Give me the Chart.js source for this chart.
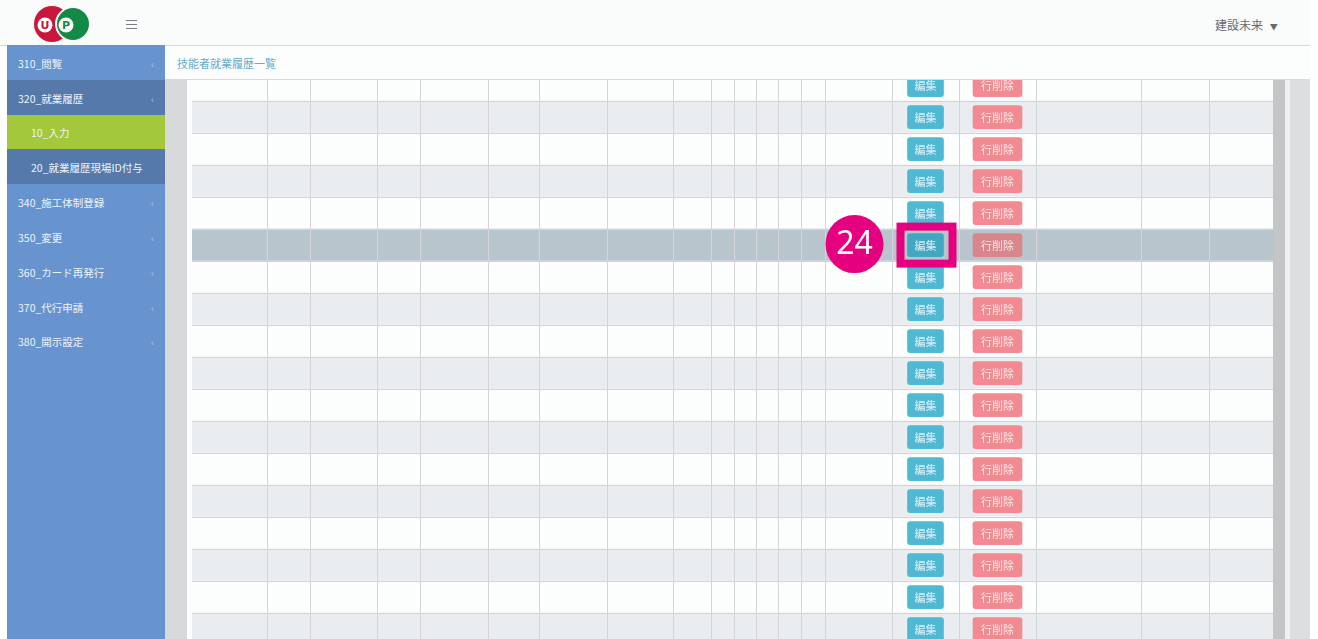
<!DOCTYPE html>
<html>
<head>
<meta charset="utf-8">
<script src="https://cdn.jsdelivr.net/npm/chart.js@4.4.1/dist/chart.umd.min.js"></script>
<style>
  body { margin: 0; width: 1318px; height: 639px; overflow: hidden; background: #ffffff; font-family: "Noto Sans CJK JP", "Noto Sans", sans-serif; position: relative; }
  .abs { position: absolute; }
  #header { left: 0; top: 0; width: 1310px; height: 45px; background: #fafbfb; border-bottom: 1px solid #d3d9de; }
  #burger { left: 126px; top: 20px; width: 11px; }
  #burger div { height: 1px; background: #7a7f85; margin-bottom: 3px; }
  #user { left: 1215px; top: 16px; font-size: 12px; color: #666a6e; }
  #sidebar { left: 7px; top: 45px; width: 158px; height: 594px; background: #6794ce; }
  .item { position: absolute; left: 0; width: 158px; color: #eef3fa; font-size: 10.5px; box-sizing: border-box; }
  .item span { position: absolute; top: 50%; transform: translateY(-50%); }
  .item i { position: absolute; right: 11px; top: 50%; transform: translateY(-50%); font-style: normal; color: #a9c0e2; font-size: 10px; }
  .dark { background: #5479aa; }
  .green { background: #a3c83b; }
  #crumb { left: 165px; top: 46px; width: 1145px; height: 34px; background: #fcfdfd; border-bottom: 1px solid #d6dadd; box-sizing: border-box; }
  #crumb span { position: absolute; left: 12px; top: 9px; font-size: 11px; color: #68abca; }
  #gutter { left: 165px; top: 80px; width: 22px; height: 559px; background: #d8d9db; }
  #tablebox { left: 187px; top: 80px; width: 1086px; height: 559px; background: #fcfdfd; }
  #scroll1 { left: 1273px; top: 80px; width: 12px; height: 559px; background: #c4c5c7; }
  #scroll2 { left: 1285px; top: 80px; width: 5px; height: 559px; background: #eef0f1; }
  #scroll3 { left: 1290px; top: 80px; width: 20px; height: 559px; background: #dcdee0; }
</style>
</head>
<body>
<div id="header" class="abs"></div>
<svg class="abs" style="left:30px;top:3px" width="64" height="42">
  <circle cx="22" cy="21" r="18" fill="#c8173a"/>
  <circle cx="42" cy="21" r="17" fill="#ffffff"/>
  <circle cx="43" cy="21" r="16" fill="#128a45"/>
  <circle cx="15" cy="22" r="7.5" fill="#ffffff"/>
  <text x="15" y="26" font-size="11" font-weight="bold" fill="#c8173a" text-anchor="middle" font-family="DejaVu Sans">U</text>
  <circle cx="36" cy="22" r="7.5" fill="#ffffff"/>
  <text x="36" y="26" font-size="11" font-weight="bold" fill="#128a45" text-anchor="middle" font-family="DejaVu Sans">P</text>
</svg>
<div id="burger" class="abs"><div></div><div></div><div></div></div>
<div id="user" class="abs">建設未来 <span style="font-size:8px;margin-left:4px;">▼</span></div>

<div id="sidebar" class="abs">
  <div class="item" style="top:0;height:35px;"><span style="left:11px;">310_閲覧</span><i>‹</i></div>
  <div class="item dark" style="top:35px;height:35px;"><span style="left:11px;">320_就業履歴</span><i>‹</i></div>
  <div class="item green" style="top:70px;height:34px;"><span style="left:24px;">10_入力</span></div>
  <div class="item dark" style="top:104px;height:35px;"><span style="left:24px;">20_就業履歴現場ID付与</span></div>
  <div class="item" style="top:139px;height:35px;"><span style="left:11px;">340_施工体制登録</span><i>‹</i></div>
  <div class="item" style="top:174px;height:35px;"><span style="left:11px;">350_変更</span><i>‹</i></div>
  <div class="item" style="top:209px;height:35px;"><span style="left:11px;">360_カード再発行</span><i>‹</i></div>
  <div class="item" style="top:244px;height:35px;"><span style="left:11px;">370_代行申請</span><i>‹</i></div>
  <div class="item" style="top:279px;height:34px;"><span style="left:11px;">380_開示設定</span><i>‹</i></div>
</div>

<div id="crumb" class="abs"><span>技能者就業履歴一覧</span></div>
<div id="gutter" class="abs"></div>
<div id="tablebox" class="abs"><canvas id="tableChart" width="1086" height="559"></canvas></div>
<div id="scroll1" class="abs"></div>
<div id="scroll2" class="abs"></div>
<div id="scroll3" class="abs"></div>

<script>
// table layout
const columnWidths = [75, 43, 67, 43, 68, 51, 68, 66, 38, 23, 22, 22, 23, 24, 67, 67, 77, 105, 68, 64];
const rows = [1, 2, 3, 4, 5, 6, 7, 8, 9, 10, 11, 12, 13, 14, 15, 16, 17, 18];
const highlightedRow = 6;
const editColumn = 15;
const deleteColumn = 16;
const editLabel = "編集";
const deleteLabel = "行削除";
const calloutLabel = "24";

const boundaries = columnWidths.reduce((acc, w) => { acc.push(acc[acc.length - 1] + w); return acc; }, [0]);
const tableWidth = boundaries[boundaries.length - 1];
const hiIndex = highlightedRow - 1;

function colSpan(col, width) {
  const mid = (boundaries[col] + boundaries[col + 1]) / 2;
  return [mid - width / 2, mid + width / 2];
}

const buttonLabels = {
  editButtons: editLabel,
  deleteButtons: deleteLabel
};

const buttonText = {
  id: "buttonText",
  afterDatasetsDraw(chart) {
    const { ctx, chartArea } = chart;
    ctx.save();
    ctx.beginPath();
    ctx.rect(chartArea.left, chartArea.top, chartArea.width, chartArea.height);
    ctx.clip();
    ctx.font = '11px "Noto Sans CJK JP"';
    ctx.fillStyle = "rgba(255,255,255,0.8)";
    ctx.textAlign = "center";
    ctx.textBaseline = "middle";
    chart.data.datasets.forEach((ds, i) => {
      const label = buttonLabels[ds.label];
      if (!label) return;
      chart.getDatasetMeta(i).data.forEach(el => {
        ctx.fillText(label, (el.x + el.base) / 2, el.y + 1);
      });
    });
    ctx.restore();
  }
};

// magenta step marker around the edit button of the selected row
const callout = {
  id: "callout",
  afterDraw(chart) {
    const el = chart.getDatasetMeta(1).data[hiIndex];
    const ctx = chart.ctx;
    const left = el.base - 11, right = el.x + 13;
    const top = el.y - el.height / 2 - 11, bottom = el.y + el.height / 2 + 11;
    ctx.save();
    ctx.strokeStyle = "#e4007f";
    ctx.lineWidth = 8;
    ctx.strokeRect(left + 4, top + 4, right - left - 8, bottom - top - 8);
    const cx = left - 42, cy = el.y - 1;
    ctx.beginPath();
    ctx.arc(cx, cy, 29, 0, Math.PI * 2);
    ctx.fillStyle = "#e4007f";
    ctx.fill();
    ctx.fillStyle = "#ffffff";
    ctx.font = '32px "Noto Sans"';
    ctx.textAlign = "center";
    ctx.textBaseline = "middle";
    ctx.fillText(calloutLabel, cx, cy + 1);
    ctx.restore();
  }
};

const ctx = document.getElementById("tableChart").getContext("2d");
new Chart(ctx, {
  type: "bar",
  data: {
    datasets: [{
      label: "rows",
      order: 3,
      data: rows.map((r, i) => ({ x: [0, tableWidth], y: i + 0.5 })),
      backgroundColor: c => c.dataIndex === hiIndex ? "#b8c5cd" : (c.dataIndex % 2 === 1 ? "#e9edf0" : "#fcfdfd"),
      barPercentage: 1,
      categoryPercentage: 1,
      grouped: false,
      borderSkipped: false,
      clip: 0
    }, {
      label: "editButtons",
      order: 1,
      data: rows.map((r, i) => ({ x: colSpan(editColumn, 36), y: i + 0.5 })),
      backgroundColor: c => c.dataIndex === hiIndex ? "#42a8c2" : "#4fb8d2",
      barThickness: 23,
      borderRadius: 3,
      borderSkipped: false,
      grouped: false,
      clip: 0
    }, {
      label: "deleteButtons",
      order: 1,
      data: rows.map((r, i) => ({ x: colSpan(deleteColumn, 49), y: i + 0.5 })),
      backgroundColor: c => c.dataIndex === hiIndex ? "#d8868c" : "#f18b91",
      barThickness: 23,
      borderRadius: 3,
      borderSkipped: false,
      grouped: false,
      clip: 0
    }]
  },
  options: {
    indexAxis: "y",
    responsive: false,
    animation: false,
    devicePixelRatio: 1,
    layout: { padding: { left: 5, right: 0, top: 0, bottom: 0 } },
    plugins: { legend: { display: false }, tooltip: { enabled: false } },
    scales: {
      x: {
        type: "linear",
        min: 0,
        max: tableWidth,
        offset: false,
        afterBuildTicks: axis => { axis.ticks = boundaries.slice(1, -1).map(v => ({ value: v })); },
        ticks: { display: false },
        grid: { color: "#d6d4d7", drawTicks: false, offset: false, z: 1 },
        border: { display: false }
      },
      y: {
        type: "linear",
        reverse: true,
        min: 0.34,
        max: 17.81,
        offset: false,
        afterBuildTicks: axis => { axis.ticks = rows.map((r, i) => ({ value: i + 1 })); },
        ticks: { display: false },
        grid: { color: "#cfd4d8", drawTicks: false, offset: false, z: 1 },
        border: { display: false }
      }
    }
  },
  plugins: [buttonText, callout]
});
</script>
</body>
</html>
